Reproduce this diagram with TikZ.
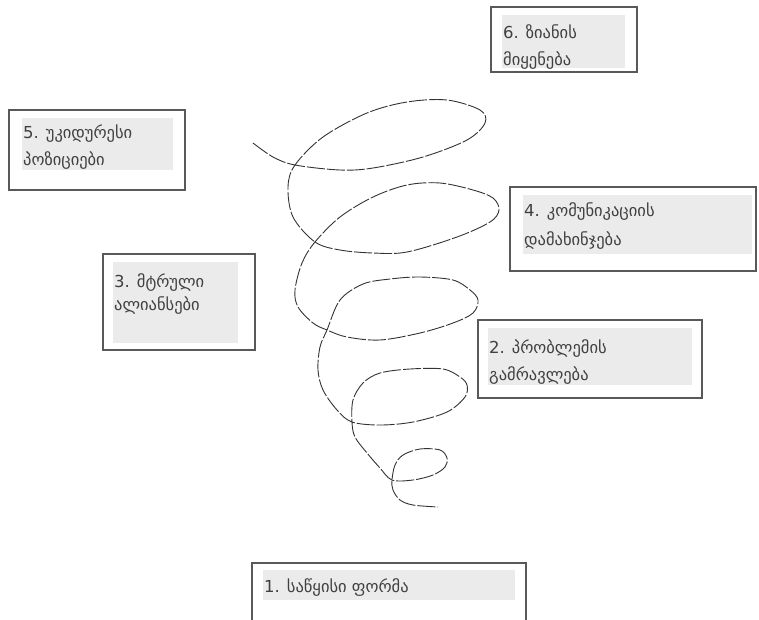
\documentclass[tikz,border=0pt]{standalone}
\usepackage{fontspec}
\setmainfont{DejaVu Sans}
\begin{document}
\begin{tikzpicture}[x=1pt,y=-1pt,
  outerbox/.style={draw=black!65,line width=1.3pt,fill=white,inner sep=0pt},
  graybox/.style={fill=black!8,draw=none,inner sep=0pt,anchor=north west},
  txt/.style={text=black!75,font=\fontsize{16.5}{27}\selectfont,align=left,inner sep=0pt,anchor=base west},
  spiral/.style={draw=black!80,line width=0.9pt,dash pattern=on 18pt off 2pt}]
\useasboundingbox (0,0) rectangle (759,619);
% box 6
\node[outerbox,minimum width=146,minimum height=65] (b6) at (564,39.5) {};
\node[graybox,minimum width=123,minimum height=53] (g6) at (502,15) {};
\node[txt] (t6) at (503,65) {6. ზიანის\\მიყენება};
% box 5
\node[outerbox,minimum width=176,minimum height=80] (b5) at (97,150) {};
\node[graybox,minimum width=151,minimum height=52] (g5) at (22,118) {};
\node[txt] (t5) at (23,165) {5. უკიდურესი\\პოზიციები};
% box 4
\node[outerbox,minimum width=246,minimum height=84] (b4) at (633,229) {};
\node[graybox,minimum width=229,minimum height=59] (g4) at (523,195) {};
\node[txt] (t4) at (524,245) {4. კომუნიკაციის\\[2pt]დამახინჯება};
% box 3
\node[outerbox,minimum width=152,minimum height=96] (b3) at (179,302) {};
\node[graybox,minimum width=125,minimum height=81] (g3) at (113,262) {};
\node[txt] (t3) at (114,310) {3. მტრული\\[-4pt]ალიანსები};
% box 2
\node[outerbox,minimum width=224,minimum height=78] (b2) at (590,359) {};
\node[graybox,minimum width=204,minimum height=57] (g2) at (488,328) {};
\node[txt] (t2) at (489,380) {2. პრობლემის\\გამრავლება};
% box 1
\node[outerbox,minimum width=274,minimum height=70] (b1) at (389,598) {};
\node[graybox,minimum width=252,minimum height=30] (g1) at (263,570) {};
\node[txt] (t1) at (264,592) {1. საწყისი ფორმა};
% spiral
\draw[spiral] plot[smooth,tension=0.55] coordinates {
 (253,143) (273,157) (295,165) (340,170) (373,168) (423,157) (467,140) (485,123)
 (480,110) (447,100) (407,102) (367,113) (323,137) (295,165) (288,187) (293,217)
 (315,242) (340,250) (373,253) (407,252) (457,237) (490,222) (499,210) (493,198)
 (473,190) (440,183) (407,185) (373,197) (340,217) (315,242) (302,263) (295,290)
 (298,307) (313,323) (327,330) (347,337) (380,340) (420,333) (453,323) (473,313)
 (478,300) (470,290) (453,280) (420,277) (390,279) (363,284) (340,300) (327,330)
 (320,347) (318,370) (323,390) (337,410) (352,422) (380,425) (413,422) (447,412)
 (465,397) (467,385) (460,377) (443,369) (410,369) (380,373) (363,383) (353,400)
 (352,422) (355,437) (367,453) (380,468) (392,480) (413,480) (433,475) (445,467)
 (447,458) (440,450) (420,449) (403,455) (395,465) (392,480) (393,490) (400,500)
 (413,505) (438,507)};
\end{tikzpicture}
\end{document}
